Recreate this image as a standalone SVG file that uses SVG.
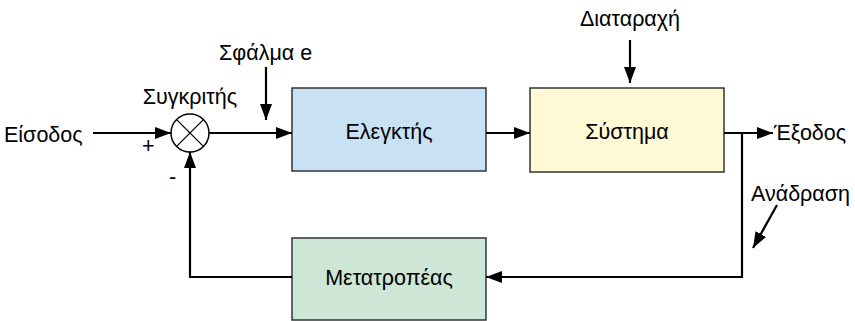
<svg xmlns="http://www.w3.org/2000/svg" width="855" height="321" viewBox="0 0 855 321">
<style>
text{font-family:"Liberation Sans",Arial,sans-serif;font-size:21.5px;fill:#000}
.box{stroke:#333;stroke-width:1.5}
.ln{fill:none;stroke:#000;stroke-width:2.2}
</style>
<defs>
<marker id="ah" markerWidth="16" markerHeight="12" refX="16" refY="6" orient="auto" markerUnits="userSpaceOnUse">
<path d="M0,0 L16,6 L0,12 Z" fill="#000"/>
</marker>
</defs>
<rect width="855" height="321" fill="#fff"/>
<g id="controller"><rect class="box" x="292" y="88" width="194" height="83" fill="#c9e1f4"/><text x="389" y="139" text-anchor="middle">Ελεγκτής</text></g>
<g id="system"><rect class="box" x="530" y="88" width="194" height="84" fill="#fff9d5"/><text x="627" y="139" text-anchor="middle">Σύστημα</text></g>
<g id="converter"><rect class="box" x="292" y="238" width="194" height="82" fill="#cde6d6"/><text x="389" y="285" text-anchor="middle">Μετατροπέας</text></g>
<g id="comparator"><circle cx="190" cy="133" r="19" fill="#fff" stroke="#000" stroke-width="1.5"/><path d="M176.6,119.6 L203.4,146.4 M203.4,119.6 L176.6,146.4" stroke="#000" stroke-width="1.3"/></g>
<g id="labels">
<text x="4" y="142">Είσοδος</text>
<text x="190" y="104" text-anchor="middle">Συγκριτής</text>
<text x="219" y="60">Σφάλμα e</text>
<text x="630" y="26" text-anchor="middle">Διαταραχή</text>
<text x="774" y="140">Έξοδος</text>
<text x="751" y="201">Ανάδραση</text>
<text x="142" y="153" font-size="18">+</text>
<text x="169" y="184" font-size="18">-</text>
</g>
<g id="connectors">
<path class="ln" d="M93,133 H171" marker-end="url(#ah)"/>
<path class="ln" d="M209,133 H292" marker-end="url(#ah)"/>
<path class="ln" d="M266,67 V120" marker-end="url(#ah)"/>
<path class="ln" d="M486,133 H530" marker-end="url(#ah)"/>
<path class="ln" d="M630,40 V83" marker-end="url(#ah)"/>
<path class="ln" d="M724,133 H773" marker-end="url(#ah)"/>
<path class="ln" d="M742,133 V277 H486" marker-end="url(#ah)"/>
<path class="ln" d="M292,277 H190 V152" marker-end="url(#ah)"/>
<path class="ln" d="M777,205 L753,248" marker-end="url(#ah)"/>
</g>
</svg>
